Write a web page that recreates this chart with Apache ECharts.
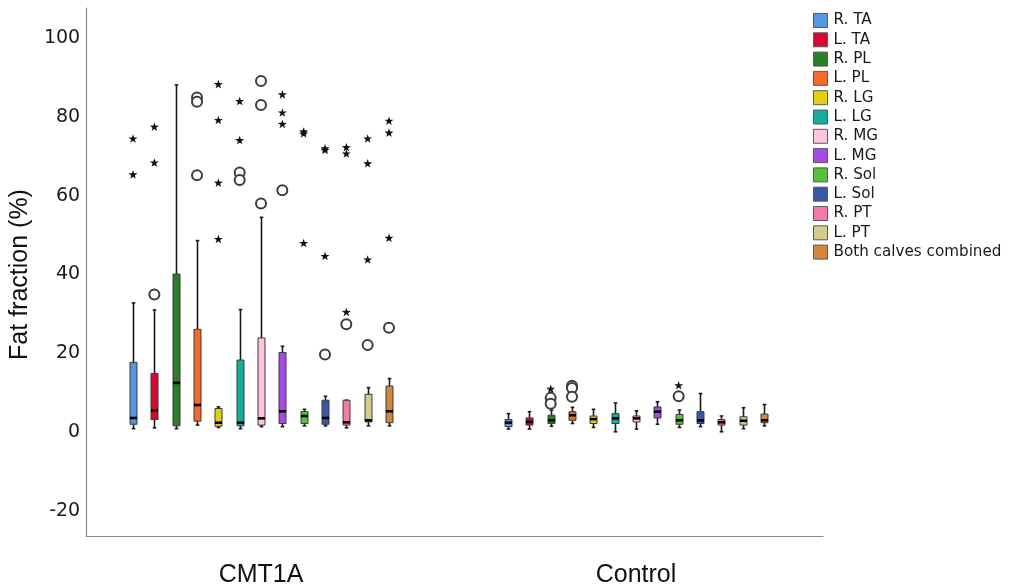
<!DOCTYPE html>
<html>
<head>
<meta charset="utf-8">
<script src="https://cdn.jsdelivr.net/npm/echarts@6/dist/echarts.min.js"></script>
<style>
  html, body { margin: 0; padding: 0; background: #ffffff; }
  #chart { width: 1009px; height: 588px; }
</style>
</head>
<body>
<div id="chart"></div>
<script>
// Calf muscles measured in each group
const muscles = ['R. TA', 'L. TA', 'R. PL', 'L. PL', 'R. LG', 'L. LG', 'R. MG', 'L. MG',
                 'R. Sol', 'L. Sol', 'R. PT', 'L. PT', 'Both calves combined'];
const groups = ['CMT1A', 'Control'];

// Box statistics per muscle: [lower whisker, Q1, median, Q3, upper whisker] (fat fraction %)
const cmtStats = [
  [0.9, 2.0, 3.6, 17.7, 32.8],
  [1.1, 3.2, 5.5, 14.9, 31.0],
  [0.9, 1.6, 12.5, 40.1, 88.1],
  [1.8, 2.8, 6.9, 26.1, 48.6],
  [1.2, 1.5, 2.4, 6.0, 6.4],
  [0.9, 1.6, 2.4, 18.3, 31.1],
  [1.4, 1.8, 3.5, 23.9, 54.5],
  [1.4, 2.2, 5.3, 20.2, 21.8],
  [1.6, 2.2, 4.1, 5.2, 5.8],
  [1.6, 2.0, 3.6, 8.1, 9.1],
  [1.1, 1.8, 2.5, 8.1, 8.1],
  [1.6, 2.6, 3.0, 9.6, 11.3],
  [1.6, 2.4, 5.3, 11.7, 13.6]
];
const ctrlStats = [
  [0.8, 1.4, 2.4, 3.2, 4.7],
  [0.8, 1.8, 2.6, 3.6, 5.2],
  [1.5, 2.2, 3.0, 4.3, 5.6],
  [2.2, 3.0, 4.3, 5.2, 6.3],
  [1.2, 2.2, 3.3, 4.1, 5.8],
  [0.1, 2.2, 3.5, 4.7, 7.4],
  [0.8, 2.6, 3.5, 4.1, 5.4],
  [2.0, 3.6, 5.2, 6.4, 7.7],
  [1.2, 2.0, 3.0, 4.5, 5.6],
  [1.4, 2.2, 3.0, 5.2, 9.8],
  [0.1, 1.8, 2.5, 3.2, 4.1],
  [0.9, 1.8, 2.9, 3.9, 6.2],
  [1.6, 2.4, 3.0, 4.6, 7.0]
];

// Outliers: [muscle index, value]; circles = outliers, stars = extreme values
const cmtCircles = [
  [1, 34.9], [3, 84.9], [3, 83.8], [3, 65.2], [5, 65.9], [5, 64.0],
  [6, 89.1], [6, 83.0], [6, 58.0], [7, 61.4], [9, 19.7], [10, 27.4],
  [11, 22.1], [12, 26.5]
];
const cmtStars = [
  [0, 74.5], [0, 65.4], [1, 77.5], [1, 68.4],
  [4, 88.3], [4, 79.2], [4, 63.3], [4, 49.0],
  [5, 84.0], [5, 74.1],
  [7, 85.7], [7, 81.1], [7, 78.2],
  [8, 76.3], [8, 75.8], [8, 48.0],
  [9, 72.0], [9, 71.6], [9, 44.7],
  [10, 72.3], [10, 70.7], [10, 30.5],
  [11, 74.5], [11, 68.2], [11, 43.8],
  [12, 79.0], [12, 76.0], [12, 49.3]
];
const ctrlCircles = [[2, 8.7], [2, 7.2], [3, 11.8], [3, 11.2], [3, 9.0], [8, 9.1]];
const ctrlStars = [[2, 11.0], [8, 11.9]];

// Y axis range and step
const yMin = -20, yMax = 100, yStep = 20;

// Fill colour of each muscle
const muscleColors = ['#5696e0', '#d40a32', '#2b7d28', '#f06a2c', '#e4d012', '#16ad9c', '#fcc4de',
                      '#a54ae6', '#54c23a', '#3b58a6', '#f878aa', '#d3cb8e', '#d2873e'];

const STAR = 'path://M0,-10L2.35,-3.24L9.51,-3.09L3.8,1.24L5.88,8.09L0,4L-5.88,8.09L-3.8,1.24L-9.51,-3.09L-2.35,-3.24Z';
const AXIS_GRAY = '#8a8a8a';

const chart = echarts.init(document.getElementById('chart'), null, { renderer: 'canvas' });

function boxRender(params, api) {
  const i = api.value(0);
  const lo = api.coord([i, api.value(1)]);
  const q1 = api.coord([i, api.value(2)]);
  const md = api.coord([i, api.value(3)]);
  const q3 = api.coord([i, api.value(4)]);
  const hi = api.coord([i, api.value(5)]);
  const band = api.size([1, 0])[0];
  const w = Math.round(band * 0.34);
  const x = Math.round(lo[0]) + 0.5;
  const cap = 1.8;
  const lineStyle = { stroke: '#1a1a1a', lineWidth: 1.6 };
  return {
    type: 'group',
    children: [
      { type: 'line', shape: { x1: x, y1: hi[1], x2: x, y2: q3[1] }, style: lineStyle },
      { type: 'line', shape: { x1: x, y1: q1[1], x2: x, y2: lo[1] }, style: lineStyle },
      { type: 'line', shape: { x1: x - cap, y1: hi[1], x2: x + cap, y2: hi[1] }, style: lineStyle },
      { type: 'line', shape: { x1: x - cap, y1: lo[1], x2: x + cap, y2: lo[1] }, style: lineStyle },
      { type: 'rect', shape: { x: x - w / 2, y: q3[1], width: w, height: Math.max(q1[1] - q3[1], 1) },
        style: { fill: muscleColors[i], stroke: '#3a3a3a', lineWidth: 1 } },
      { type: 'line', shape: { x1: x - w / 2, y1: md[1], x2: x + w / 2, y2: md[1] },
        style: { stroke: '#000', lineWidth: 2.6 } }
    ]
  };
}

function buildGroup(gi, stats, circles, stars) {
  const list = [];
  list.push({
    type: 'custom',
    name: groups[gi],
    xAxisIndex: 2 + gi,
    yAxisIndex: 2 + gi,
    renderItem: boxRender,
    encode: { x: 0, y: [1, 2, 3, 4, 5] },
    data: stats.map((s, i) => [i].concat(s)),
    z: 2
  });
  muscles.forEach((m, i) => {
    const pts = [];
    circles.filter(p => p[0] === i).forEach(p => pts.push({
      value: p, symbol: 'emptyCircle', symbolSize: 10,
      itemStyle: { color: '#3c3c3c', borderColor: '#3c3c3c', borderWidth: 1.3 }
    }));
    stars.filter(p => p[0] === i).forEach(p => pts.push({
      value: p, symbol: STAR, symbolSize: 9,
      itemStyle: { color: '#111', borderWidth: 0 }
    }));
    list.push({
      type: 'scatter',
      name: m,
      xAxisIndex: 2 + gi,
      yAxisIndex: 2 + gi,
      symbolKeepAspect: true,
      itemStyle: { opacity: 1 },
      data: pts,
      z: 3
    });
  });
  return list;
}

const plotTop = 38, plotBottomPx = 511;
const plotHeight = plotBottomPx - plotTop;
const bandPx = 21.33;
const groupCenters = [261, 636];

const option = {
  animation: false,
  backgroundColor: '#ffffff',
  legend: {
    orient: 'vertical',
    left: 808,
    top: 8,
    itemWidth: 14,
    itemHeight: 14,
    itemGap: 4.3,
    selectedMode: false,
    textStyle: { fontFamily: 'DejaVu Sans', fontSize: 15.2, color: '#1a1a1a', padding: [0, 0, 0, 1] },
    data: muscles.map((m, i) => ({
      name: m, icon: 'rect',
      itemStyle: { color: muscleColors[i], opacity: 1, borderColor: '#5a5a5a', borderWidth: 1 }
    }))
  },
  grid: [
    // axis frame
    { left: 86, top: 8, width: 737, height: 528 },
    // value labels
    { left: 86, top: plotTop, width: 737, height: plotHeight },
    // CMT1A boxes
    { left: groupCenters[0] - bandPx * 6.5, top: plotTop, width: bandPx * 13, height: plotHeight },
    // Control boxes
    { left: groupCenters[1] - bandPx * 6.5, top: plotTop, width: bandPx * 13, height: plotHeight },
    // group labels
    { left: 73.5, top: 8, width: 750, height: 528 }
  ],
  xAxis: [
    { gridIndex: 0, type: 'value', min: 0, max: 1, axisLine: { show: true, onZero: false, lineStyle: { color: AXIS_GRAY, width: 1.2 } },
      axisTick: { show: false }, axisLabel: { show: false }, splitLine: { show: false } },
    { gridIndex: 1, type: 'value', show: false },
    { gridIndex: 2, type: 'category', data: muscles, show: false },
    { gridIndex: 3, type: 'category', data: muscles, show: false },
    { gridIndex: 4, type: 'category', data: groups, axisLine: { show: false }, axisTick: { show: false },
      axisLabel: { margin: 27, fontFamily: 'Liberation Sans', fontSize: 25, color: '#111' } }
  ],
  yAxis: [
    { gridIndex: 0, type: 'value', min: 0, max: 1, axisLine: { show: true, lineStyle: { color: AXIS_GRAY, width: 1.2 } },
      axisTick: { show: false }, axisLabel: { show: false }, splitLine: { show: false } },
    { gridIndex: 1, type: 'value', min: yMin, max: yMax, interval: yStep,
      axisLine: { show: false }, axisTick: { show: false }, splitLine: { show: false },
      axisLabel: { margin: 7, fontFamily: 'DejaVu Sans', fontSize: 19, color: '#1a1a1a' },
      name: 'Fat fraction (%)', nameLocation: 'middle', nameGap: 50,
      nameTextStyle: { fontFamily: 'Liberation Sans', fontSize: 25, color: '#111' } },
    { gridIndex: 2, type: 'value', min: yMin, max: yMax, show: false },
    { gridIndex: 3, type: 'value', min: yMin, max: yMax, show: false },
    { gridIndex: 4, type: 'value', show: false }
  ],
  series: [].concat(
    buildGroup(0, cmtStats, cmtCircles, cmtStars),
    buildGroup(1, ctrlStats, ctrlCircles, ctrlStars)
  )
};

chart.setOption(option);
</script>
</body>
</html>
